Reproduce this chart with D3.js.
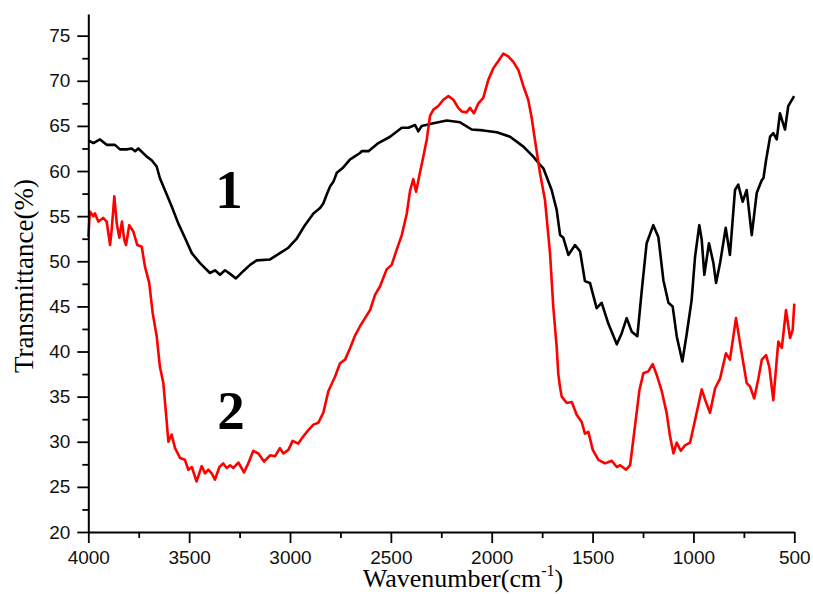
<!DOCTYPE html>
<html>
<head>
<meta charset="utf-8">
<script src="https://cdn.jsdelivr.net/npm/d3@7"></script>
<style>
  body { margin: 0; background: #fff; }
  svg { display: block; }
</style>
</head>
<body>
<div id="chart"></div>
<script>
// wavenumber (cm-1) and transmittance (%)
const wn1 = [4000, 3975, 3942, 3909, 3868, 3843, 3810, 3785, 3768, 3752, 3710, 3686, 3661, 3645, 3611, 3587, 3554, 3521, 3487, 3446, 3397, 3372, 3347, 3322, 3297, 3268, 3232, 3198, 3165, 3099, 3050, 3008, 2967, 2926, 2884, 2851, 2835, 2818, 2801, 2785, 2768, 2736, 2702, 2694, 2653, 2644, 2611, 2562, 2504, 2446, 2413, 2380, 2364, 2347, 2289, 2223, 2157, 2099, 2042, 1975, 1909, 1843, 1794, 1761, 1744, 1703, 1678, 1661, 1645, 1620, 1587, 1562, 1538, 1513, 1480, 1455, 1422, 1380, 1356, 1331, 1306, 1278, 1256, 1232, 1199, 1174, 1149, 1124, 1103, 1083, 1055, 1033, 1009, 992, 971, 959, 946, 923, 901, 888, 868, 840, 819, 794, 778, 756, 736, 711, 686, 661, 653, 640, 620, 604, 587, 571, 546, 530, 501];
const t1 = [63.4, 63.1, 63.5, 62.9, 62.9, 62.4, 62.4, 62.5, 62.2, 62.5, 61.6, 61.2, 60.5, 59.2, 57.4, 56.1, 54.2, 52.6, 50.9, 49.8, 48.7, 49.0, 48.5, 49.0, 48.6, 48.1, 48.9, 49.6, 50.1, 50.2, 50.9, 51.5, 52.5, 54.0, 55.3, 55.9, 56.4, 57.4, 58.3, 58.8, 59.8, 60.4, 61.3, 61.4, 62.0, 62.2, 62.2, 63.1, 63.8, 64.8, 64.8, 65.1, 64.4, 65.0, 65.3, 65.6, 65.4, 64.6, 64.5, 64.3, 63.8, 62.7, 61.6, 60.7, 60.3, 57.9, 55.7, 52.9, 52.6, 50.7, 51.8, 51.1, 47.8, 47.6, 44.8, 45.4, 43.1, 40.8, 42.0, 43.7, 42.2, 41.7, 46.8, 52.0, 54.0, 52.7, 47.9, 45.4, 45.0, 41.7, 38.9, 42.0, 45.7, 50.5, 54.0, 52.4, 48.5, 52.0, 49.8, 47.6, 49.8, 53.7, 50.7, 57.9, 58.5, 56.6, 57.9, 52.9, 57.6, 59.0, 59.2, 61.2, 63.8, 64.2, 63.5, 66.4, 64.6, 67.2, 68.3];

const wn2 = [4000, 3992, 3975, 3967, 3950, 3926, 3909, 3892, 3884, 3871, 3859, 3846, 3833, 3822, 3813, 3797, 3777, 3757, 3735, 3719, 3698, 3681, 3661, 3645, 3628, 3615, 3603, 3587, 3570, 3545, 3521, 3504, 3487, 3463, 3438, 3421, 3405, 3388, 3372, 3350, 3331, 3314, 3297, 3281, 3256, 3228, 3207, 3182, 3157, 3129, 3099, 3074, 3050, 3033, 3008, 2987, 2959, 2934, 2909, 2884, 2860, 2835, 2810, 2777, 2752, 2727, 2702, 2677, 2653, 2628, 2603, 2578, 2554, 2521, 2496, 2471, 2446, 2421, 2405, 2389, 2375, 2356, 2339, 2322, 2306, 2289, 2265, 2240, 2215, 2190, 2166, 2149, 2124, 2108, 2088, 2066, 2042, 2017, 1992, 1967, 1943, 1918, 1893, 1868, 1843, 1819, 1802, 1786, 1761, 1736, 1711, 1695, 1678, 1670, 1661, 1653, 1628, 1603, 1579, 1554, 1538, 1521, 1499, 1471, 1438, 1405, 1380, 1363, 1334, 1314, 1290, 1268, 1248, 1224, 1202, 1182, 1157, 1133, 1116, 1099, 1083, 1063, 1042, 1017, 992, 959, 938, 918, 893, 868, 839, 819, 789, 769, 736, 719, 699, 678, 661, 640, 624, 604, 587, 579, 562, 541, 521, 508, 500];
const t2 = [52.7, 55.5, 55.0, 55.3, 54.4, 54.8, 54.4, 51.8, 53.5, 57.2, 54.2, 52.6, 54.4, 52.4, 51.8, 54.0, 53.3, 51.8, 51.6, 49.4, 47.6, 44.3, 41.7, 38.3, 36.5, 33.2, 30.0, 30.8, 29.3, 28.2, 28.0, 26.9, 27.2, 25.6, 27.3, 26.5, 26.9, 26.5, 25.8, 27.2, 27.6, 27.1, 27.4, 27.1, 27.7, 26.6, 27.6, 29.0, 28.7, 27.8, 28.5, 28.4, 29.3, 28.7, 29.1, 30.1, 29.8, 30.6, 31.3, 31.9, 32.1, 33.2, 35.6, 37.2, 38.7, 39.1, 40.4, 41.8, 42.8, 43.7, 44.6, 46.3, 47.2, 49.1, 49.6, 51.3, 52.9, 55.3, 57.8, 59.1, 57.7, 59.8, 61.6, 63.5, 66.1, 66.8, 67.2, 67.9, 68.3, 67.9, 67.0, 66.6, 66.5, 67.0, 66.4, 67.5, 68.1, 70.1, 71.4, 72.2, 73.0, 72.7, 72.1, 71.2, 69.4, 67.9, 65.9, 63.5, 59.8, 56.8, 50.9, 45.0, 40.5, 37.5, 36.0, 35.0, 34.3, 34.4, 33.0, 32.2, 30.9, 31.1, 29.1, 28.0, 27.6, 27.9, 27.2, 27.4, 26.9, 27.4, 31.7, 35.7, 37.6, 37.8, 38.6, 37.4, 35.6, 33.2, 30.6, 28.7, 29.9, 29.0, 29.6, 29.9, 32.4, 35.8, 34.4, 33.2, 35.9, 37.0, 39.8, 39.1, 43.7, 40.9, 36.5, 36.1, 34.8, 37.0, 39.1, 39.6, 38.3, 34.6, 39.1, 41.1, 40.4, 44.6, 41.5, 42.4, 45.3];

const xTicks = [4000, 3500, 3000, 2500, 2000, 1500, 1000, 500];
const xMinor = [3750, 3250, 2750, 2250, 1750, 1250, 750];
const yTicks = [20, 25, 30, 35, 40, 45, 50, 55, 60, 65, 70, 75];
const yMinor = [22.5, 27.5, 32.5, 37.5, 42.5, 47.5, 52.5, 57.5, 62.5, 67.5, 72.5];

const series = [
  { name: '1', wn: wn1, t: t1, color: '#000000' },
  { name: '2', wn: wn2, t: t2, color: '#ff0000' }
];

const width = 813;
const height = 594;
const margin = { left: 88.3, right: 18.7, top: 14, bottom: 62 };

const svg = d3.select('#chart')
  .append('svg')
  .attr('width', width)
  .attr('height', height);

const x = d3.scaleLinear()
  .domain([4000, 500])
  .range([margin.left, width - margin.right]);

const y = d3.scaleLinear()
  .domain([20, 77.4])
  .range([height - margin.bottom, margin.top]);

const line = d3.line()
  .x(d => x(d[0]))
  .y(d => y(d[1]));

svg.append('g')
  .attr('fill', 'none')
  .attr('stroke-width', 2.6)
  .attr('stroke-linejoin', 'round')
  .selectAll('path')
  .data(series)
  .join('path')
  .attr('stroke', d => d.color)
  .attr('d', d => line(d3.zip(d.wn, d.t)));

// axes
const fmt = d3.format('d');

svg.append('g')
  .attr('transform', `translate(0,${height - margin.bottom})`)
  .call(d3.axisBottom(x).tickValues(xTicks).tickFormat(fmt).tickSize(11).tickSizeOuter(0).tickPadding(8));

svg.append('g')
  .attr('transform', `translate(0,${height - margin.bottom})`)
  .call(d3.axisBottom(x).tickValues(xMinor).tickSize(6).tickFormat(''))
  .call(g => g.select('.domain').remove());

svg.append('g')
  .attr('transform', `translate(${margin.left},0)`)
  .call(d3.axisLeft(y).tickValues(yTicks).tickFormat(fmt).tickSize(11).tickSizeOuter(0).tickPadding(7));

svg.append('g')
  .attr('transform', `translate(${margin.left},0)`)
  .call(d3.axisLeft(y).tickValues(yMinor).tickSize(6).tickFormat(''))
  .call(g => g.select('.domain').remove());

svg.selectAll('.domain').attr('stroke', '#000').attr('stroke-width', 2);
svg.selectAll('.tick line').attr('stroke', '#000').attr('stroke-width', 1.8);
svg.selectAll('.tick text')
  .attr('fill', '#111')
  .style('font-family', '"Liberation Sans", Arial, sans-serif')
  .style('font-size', '19px');

// axis titles
svg.append('text')
  .attr('transform', 'translate(33,276) rotate(-90)')
  .attr('text-anchor', 'middle')
  .style('font-family', '"Liberation Serif", "Times New Roman", serif')
  .style('font-size', '27px')
  .text('Transmittance(%)');

const xt = svg.append('text')
  .attr('x', 463)
  .attr('y', 587)
  .attr('text-anchor', 'middle')
  .style('font-family', '"Liberation Serif", "Times New Roman", serif')
  .style('font-size', '26px');
xt.append('tspan').text('Wavenumber(cm');
xt.append('tspan').attr('dy', -11).style('font-size', '16px').text('-1');
xt.append('tspan').attr('dy', 11).text(')');

// curve labels
svg.append('g')
  .style('font-family', '"Liberation Serif", "Times New Roman", serif')
  .style('font-size', '55px')
  .style('font-weight', 'bold')
  .attr('text-anchor', 'middle')
  .selectAll('text')
  .data([{ t: '1', x: 229, y: 208 }, { t: '2', x: 231, y: 429 }])
  .join('text')
  .attr('x', d => d.x)
  .attr('y', d => d.y)
  .text(d => d.t);
</script>
</body>
</html>
